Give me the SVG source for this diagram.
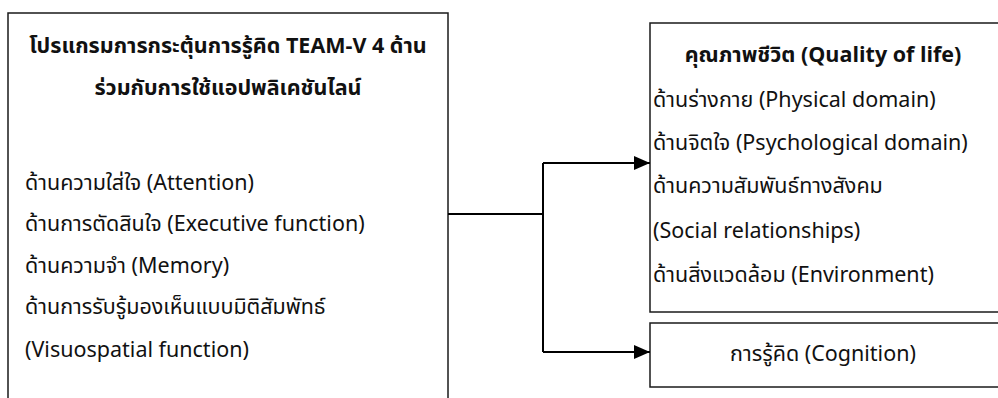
<svg xmlns="http://www.w3.org/2000/svg" width="998" height="398" viewBox="0 0 998 398">
<defs>
<style>
.box{fill:#fff;stroke:#1a1a1a;stroke-width:1.5}
.t{font-family:"Noto Sans Thai","Noto Sans","DejaVu Sans",sans-serif;font-size:21.5px;fill:#111}
.b{font-weight:bold}
.c{text-anchor:middle}
.ln{fill:none;stroke:#000;stroke-width:2}
</style>
<marker id="ah" viewBox="0 0 16 14" refX="16" refY="7" markerWidth="16" markerHeight="14" markerUnits="userSpaceOnUse" orient="auto">
<path d="M0,0 L16,7 L0,14 Z" fill="#000"/>
</marker>
</defs>
<rect width="998" height="398" fill="#fff"/>
<g id="program">
<rect class="box" x="8" y="13" width="440" height="400"/>
<text class="t b c" x="228" y="53">โปรแกรมการกระตุ้นการรู้คิด TEAM-V 4 ด้าน</text>
<text class="t b c" x="228" y="95">ร่วมกับการใช้แอปพลิเคชันไลน์</text>
<text class="t" x="25" y="190">ด้านความใส่ใจ (Attention)</text>
<text class="t" x="25" y="231">ด้านการตัดสินใจ (Executive function)</text>
<text class="t" x="25" y="273">ด้านความจำ (Memory)</text>
<text class="t" x="25" y="314">ด้านการรับรู้มองเห็นแบบมิติสัมพัทธ์</text>
<text class="t" x="25" y="357">(Visuospatial function)</text>
</g>
<g id="qol">
<rect class="box" x="650" y="23" width="360" height="289"/>
<text class="t b c" x="823" y="62">คุณภาพชีวิต (Quality of life)</text>
<text class="t" x="653" y="107">ด้านร่างกาย (Physical domain)</text>
<text class="t" x="653" y="150">ด้านจิตใจ (Psychological domain)</text>
<text class="t" x="653" y="193">ด้านความสัมพันธ์ทางสังคม</text>
<text class="t" x="653" y="238">(Social relationships)</text>
<text class="t" x="653" y="282">ด้านสิ่งแวดล้อม (Environment)</text>
</g>
<g id="cognition">
<rect class="box" x="650" y="323" width="360" height="64"/>
<text class="t c" x="823" y="361">การรู้คิด (Cognition)</text>
</g>
<g id="connectors">
<path class="ln" d="M448,214 H543"/>
<path class="ln" d="M543,163 V352"/>
<path class="ln" d="M543,163 H650" marker-end="url(#ah)"/>
<path class="ln" d="M543,352 H650" marker-end="url(#ah)"/>
</g>
</svg>
